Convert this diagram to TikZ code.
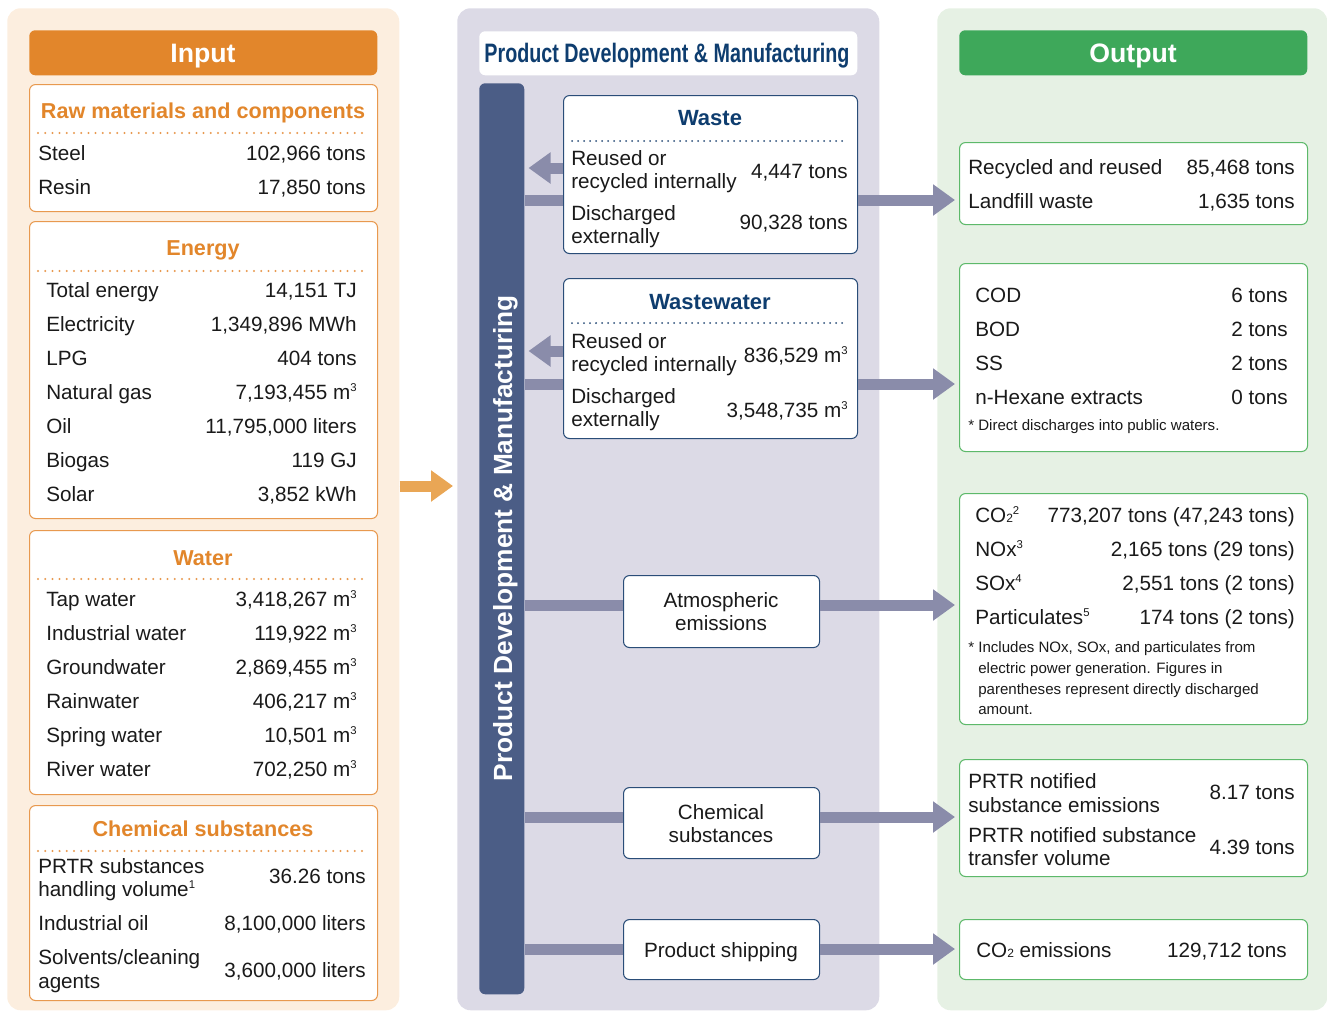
\documentclass[tikz,border=0pt]{standalone}
\usepackage{fontspec}
\setmainfont{Liberation Sans}
\usetikzlibrary{arrows.meta}
\definecolor{inbg}{HTML}{FCEEDF}
\definecolor{inorange}{HTML}{E2862B}
\definecolor{inborder}{HTML}{E8994F}
\definecolor{midbg}{HTML}{DCDAE6}
\definecolor{barblue}{HTML}{4B5D86}
\definecolor{flowc}{HTML}{8A8CAA}
\definecolor{navy}{HTML}{0E3D6F}
\definecolor{navyb}{HTML}{2A4D78}
\definecolor{outbg}{HTML}{E6F1E4}
\definecolor{outgreen}{HTML}{3EA85A}
\definecolor{outborder}{HTML}{5DB96A}
\definecolor{txt}{HTML}{1A1A1A}
\definecolor{inarrow}{HTML}{E9A655}
\newcounter{tn}
\newcommand\boxat[6]{\node[#6, anchor=north west, minimum width={(#3-#1)*0.75pt}, minimum height={(#4-#2)*0.75pt}] (#5) at (#1,#2) {};}
\newcommand\txL[4][txtn]{\stepcounter{tn}\node[#1,anchor=base west] (t\arabic{tn}) at (#2,#3) {#4};}
\newcommand\txR[4][txtn]{\stepcounter{tn}\node[#1,anchor=base east] (t\arabic{tn}) at (#2,#3) {#4};}
\newcommand\txC[4][txtn]{\stepcounter{tn}\node[#1,anchor=base] (t\arabic{tn}) at (#2,#3) {#4};}
\newcommand\spr[1]{\raisebox{5.6pt}{\fontsize{8.5}{8.5}\selectfont #1}}
\newcommand\sbs[1]{\raisebox{-0.6pt}{\fontsize{9}{9}\selectfont #1}}
\begin{document}
\begin{tikzpicture}[x=0.75pt,y=-0.75pt,
  txtn/.style={inner sep=0pt, font=\fontsize{15.5}{18}\selectfont, text=txt},
  small/.style={inner sep=0pt, font=\fontsize{11.3}{13}\selectfont, text=txt},
  intitle/.style={inner sep=0pt, font=\fontsize{16.2}{19}\selectfont\bfseries, text=inorange},
  midtitle/.style={inner sep=0pt, font=\fontsize{16.5}{19}\selectfont\bfseries, text=navy},
  headt/.style={inner sep=0pt, font=\fontsize{20}{24}\selectfont\bfseries, text=white},
  inbox/.style={draw=inborder, fill=white, line width=0.8pt, rounded corners=4.5pt, inner sep=0pt},
  outbox/.style={draw=outborder, fill=white, line width=0.8pt, rounded corners=4.5pt, inner sep=0pt},
  midbox/.style={draw=navyb, fill=white, line width=0.8pt, rounded corners=4.5pt, inner sep=0pt},
  dotsin/.style={draw=inborder, line width=1.7pt, line cap=round, dash pattern=on 0pt off 5.4pt},
  dotsmid/.style={draw=navyb, line width=1.5pt, line cap=round, dash pattern=on 0pt off 4.5pt},
  flow/.style={draw=flowc, line width=8.25pt},
  flowar/.style={flow, -{Triangle[length=16.5pt,width=22.5pt]}, shorten >=3pt},
]
\useasboundingbox (0,0) rectangle (1327,1011);
% panels
\boxat{7}{8}{399}{1010}{inpanel}{fill=inbg, rounded corners=10pt, inner sep=0pt}
\boxat{457}{8}{879}{1010}{midpanel}{fill=midbg, rounded corners=10pt, inner sep=0pt}
\boxat{937}{8}{1327}{1010}{outpanel}{fill=outbg, rounded corners=10pt, inner sep=0pt}

% ---------------- INPUT ----------------
\boxat{29}{30}{377}{75}{inhead}{fill=inorange, rounded corners=4.5pt, inner sep=0pt}
\txC[headt]{203}{62}{Input}

\boxat{29}{84}{377}{211}{raw}{inbox}
\txC[intitle]{203}{118}{Raw materials and components}
\draw[dotsin] (38,133) -- (367,133);
\txL{38}{160}{Steel}\txR{366}{160}{102,966 tons}
\txL{38}{194}{Resin}\txR{366}{194}{17,850 tons}

\boxat{29}{221}{377}{518}{energy}{inbox}
\txC[intitle]{203}{255}{Energy}
\draw[dotsin] (38,271) -- (367,271);
\txL{46}{297}{Total energy}\txR{357}{297}{14,151 TJ}
\txL{46}{331}{Electricity}\txR{357}{331}{1,349,896 MWh}
\txL{46}{365}{LPG}\txR{357}{365}{404 tons}
\txL{46}{399}{Natural gas}\txR{357}{399}{7,193,455 m\spr{3}}
\txL{46}{433}{Oil}\txR{357}{433}{11,795,000 liters}
\txL{46}{467}{Biogas}\txR{357}{467}{119 GJ}
\txL{46}{501}{Solar}\txR{357}{501}{3,852 kWh}

\boxat{29}{530}{377}{794}{water}{inbox}
\txC[intitle]{203}{565}{Water}
\draw[dotsin] (38,579) -- (367,579);
\txL{46}{606}{Tap water}\txR{357}{606}{3,418,267 m\spr{3}}
\txL{46}{640}{Industrial water}\txR{357}{640}{119,922 m\spr{3}}
\txL{46}{674}{Groundwater}\txR{357}{674}{2,869,455 m\spr{3}}
\txL{46}{708}{Rainwater}\txR{357}{708}{406,217 m\spr{3}}
\txL{46}{742}{Spring water}\txR{357}{742}{10,501 m\spr{3}}
\txL{46}{776}{River water}\txR{357}{776}{702,250 m\spr{3}}

\boxat{29}{805}{377}{1000}{chem}{inbox}
\txC[intitle]{203}{836}{Chemical substances}
\draw[dotsin] (38,851) -- (367,851);
\txL{38}{873}{PRTR substances}
\txL{38}{896}{handling volume\spr{1}}
\txR{366}{883}{36.26 tons}
\txL{38}{930}{Industrial oil}\txR{366}{930}{8,100,000 liters}
\txL{38}{964}{Solvents/cleaning}
\txL{38}{988}{agents}
\txR{366}{977}{3,600,000 liters}

% ---------------- MIDDLE ----------------
\boxat{479}{31}{857}{75}{midhead}{fill=white, rounded corners=4.5pt, inner sep=0pt}
\txC[inner sep=0pt, font=\fontsize{20}{24}\selectfont\bfseries, text=navy]{667}{62}{\scalebox{0.74}[1]{Product Development \& Manufacturing}}

\boxat{479}{83}{524}{994}{bar}{fill=barblue, rounded corners=4.5pt, inner sep=0pt}
\node[inner sep=0pt, font=\fontsize{19.7}{23}\selectfont\bfseries, text=white, anchor=base, rotate=90] (bartext) at (512,538) {Product Development \& Manufacturing};

\boxat{563}{95}{857}{253}{waste}{midbox}
\txC[midtitle]{710}{125}{Waste}
\draw[dotsmid] (572,141) -- (848,141);
\txL{571}{165}{Reused or}
\txL{571}{188}{recycled internally}
\txR{848}{178}{4,447 tons}
\txL{571}{220}{Discharged}
\txL{571}{243}{externally}
\txR{848}{229}{90,328 tons}

\boxat{563}{278}{857}{438}{wwater}{midbox}
\txC[midtitle]{710}{309}{Wastewater}
\draw[dotsmid] (572,323) -- (848,323);
\txL{571}{348}{Reused or}
\txL{571}{371}{recycled internally}
\txR{848}{362}{836,529 m\spr{3}}
\txL{571}{403}{Discharged}
\txL{571}{426}{externally}
\txR{848}{417}{3,548,735 m\spr{3}}

\boxat{623}{575}{819}{647}{atmo}{midbox}
\txC{721}{607}{Atmospheric}
\txC{721}{630}{emissions}

\boxat{623}{787}{819}{858}{chemsub}{midbox}
\txC{721}{819}{Chemical}
\txC{721}{842}{substances}

\boxat{623}{919}{819}{979}{ship}{midbox}
\txC{721}{957}{Product shipping}

% ---------------- OUTPUT ----------------
\boxat{959}{30}{1307}{75}{outhead}{fill=outgreen, rounded corners=4.5pt, inner sep=0pt}
\txC[headt]{1133}{62}{Output}

\boxat{959}{142}{1307}{224}{o1}{outbox}
\txL{968}{174}{Recycled and reused}\txR{1295}{174}{85,468 tons}
\txL{968}{208}{Landfill waste}\txR{1295}{208}{1,635 tons}

\boxat{959}{263}{1307}{451}{o2}{outbox}
\txL{975}{302}{COD}\txR{1288}{302}{6 tons}
\txL{975}{336}{BOD}\txR{1288}{336}{2 tons}
\txL{975}{370}{SS}\txR{1288}{370}{2 tons}
\txL{975}{404}{n-Hexane extracts}\txR{1288}{404}{0 tons}
\txL[small]{968}{430}{* Direct discharges into public waters.}

\boxat{959}{493}{1307}{724}{o3}{outbox}
\txL{975}{522}{CO\sbs{2}\spr{2}}\txR{1295}{522}{773,207 tons (47,243 tons)}
\txL{975}{556}{NOx\spr{3}}\txR{1295}{556}{2,165 tons (29 tons)}
\txL{975}{590}{SOx\spr{4}}\txR{1295}{590}{2,551 tons (2 tons)}
\txL{975}{624}{Particulates\spr{5}}\txR{1295}{624}{174 tons (2 tons)}
\txL[small]{968}{652}{* Includes NOx, SOx, and particulates from}
\txL[small]{978}{673}{electric power generation. Figures in}
\txL[small]{978}{694}{parentheses represent directly discharged}
\txL[small]{978}{714}{amount.}

\boxat{959}{759}{1307}{876}{o4}{outbox}
\txL{968}{788}{PRTR notified}
\txL{968}{812}{substance emissions}
\txR{1295}{799}{8.17 tons}
\txL{968}{842}{PRTR notified substance}
\txL{968}{865}{transfer volume}
\txR{1295}{854}{4.39 tons}

\boxat{959}{919}{1307}{979}{o5}{outbox}
\txL{976}{957}{CO\sbs{2} emissions}\txR{1287}{957}{129,712 tons}

% ---------------- CONNECTORS ----------------
\coordinate (yIn) at (0,486);
\coordinate (yW1) at (0,168);
\coordinate (yW2) at (0,200);
\coordinate (yV1) at (0,351);
\coordinate (yV2) at (0,384);
\coordinate (yA) at (0,605);
\coordinate (yC) at (0,817);
\coordinate (yP) at (0,949);

\draw[flowar, draw=inarrow, fill=inarrow] (inpanel.east |- yIn) -- (midpanel.west |- yIn);

\draw[flow] (bar.east |- yW2) -- (waste.west |- yW2);
\draw[flowar] (waste.east |- yW2) -- (o1.west |- yW2);
\draw[flowar] (waste.west |- yW1) -- (bar.east |- yW1);

\draw[flow] (bar.east |- yV2) -- (wwater.west |- yV2);
\draw[flowar] (wwater.east |- yV2) -- (o2.west |- yV2);
\draw[flowar] (wwater.west |- yV1) -- (bar.east |- yV1);

\draw[flow] (bar.east |- yA) -- (atmo.west |- yA);
\draw[flowar] (atmo.east |- yA) -- (o3.west |- yA);

\draw[flow] (bar.east |- yC) -- (chemsub.west |- yC);
\draw[flowar] (chemsub.east |- yC) -- (o4.west |- yC);

\draw[flow] (bar.east |- yP) -- (ship.west |- yP);
\draw[flowar] (ship.east |- yP) -- (o5.west |- yP);
\end{tikzpicture}
\end{document}
